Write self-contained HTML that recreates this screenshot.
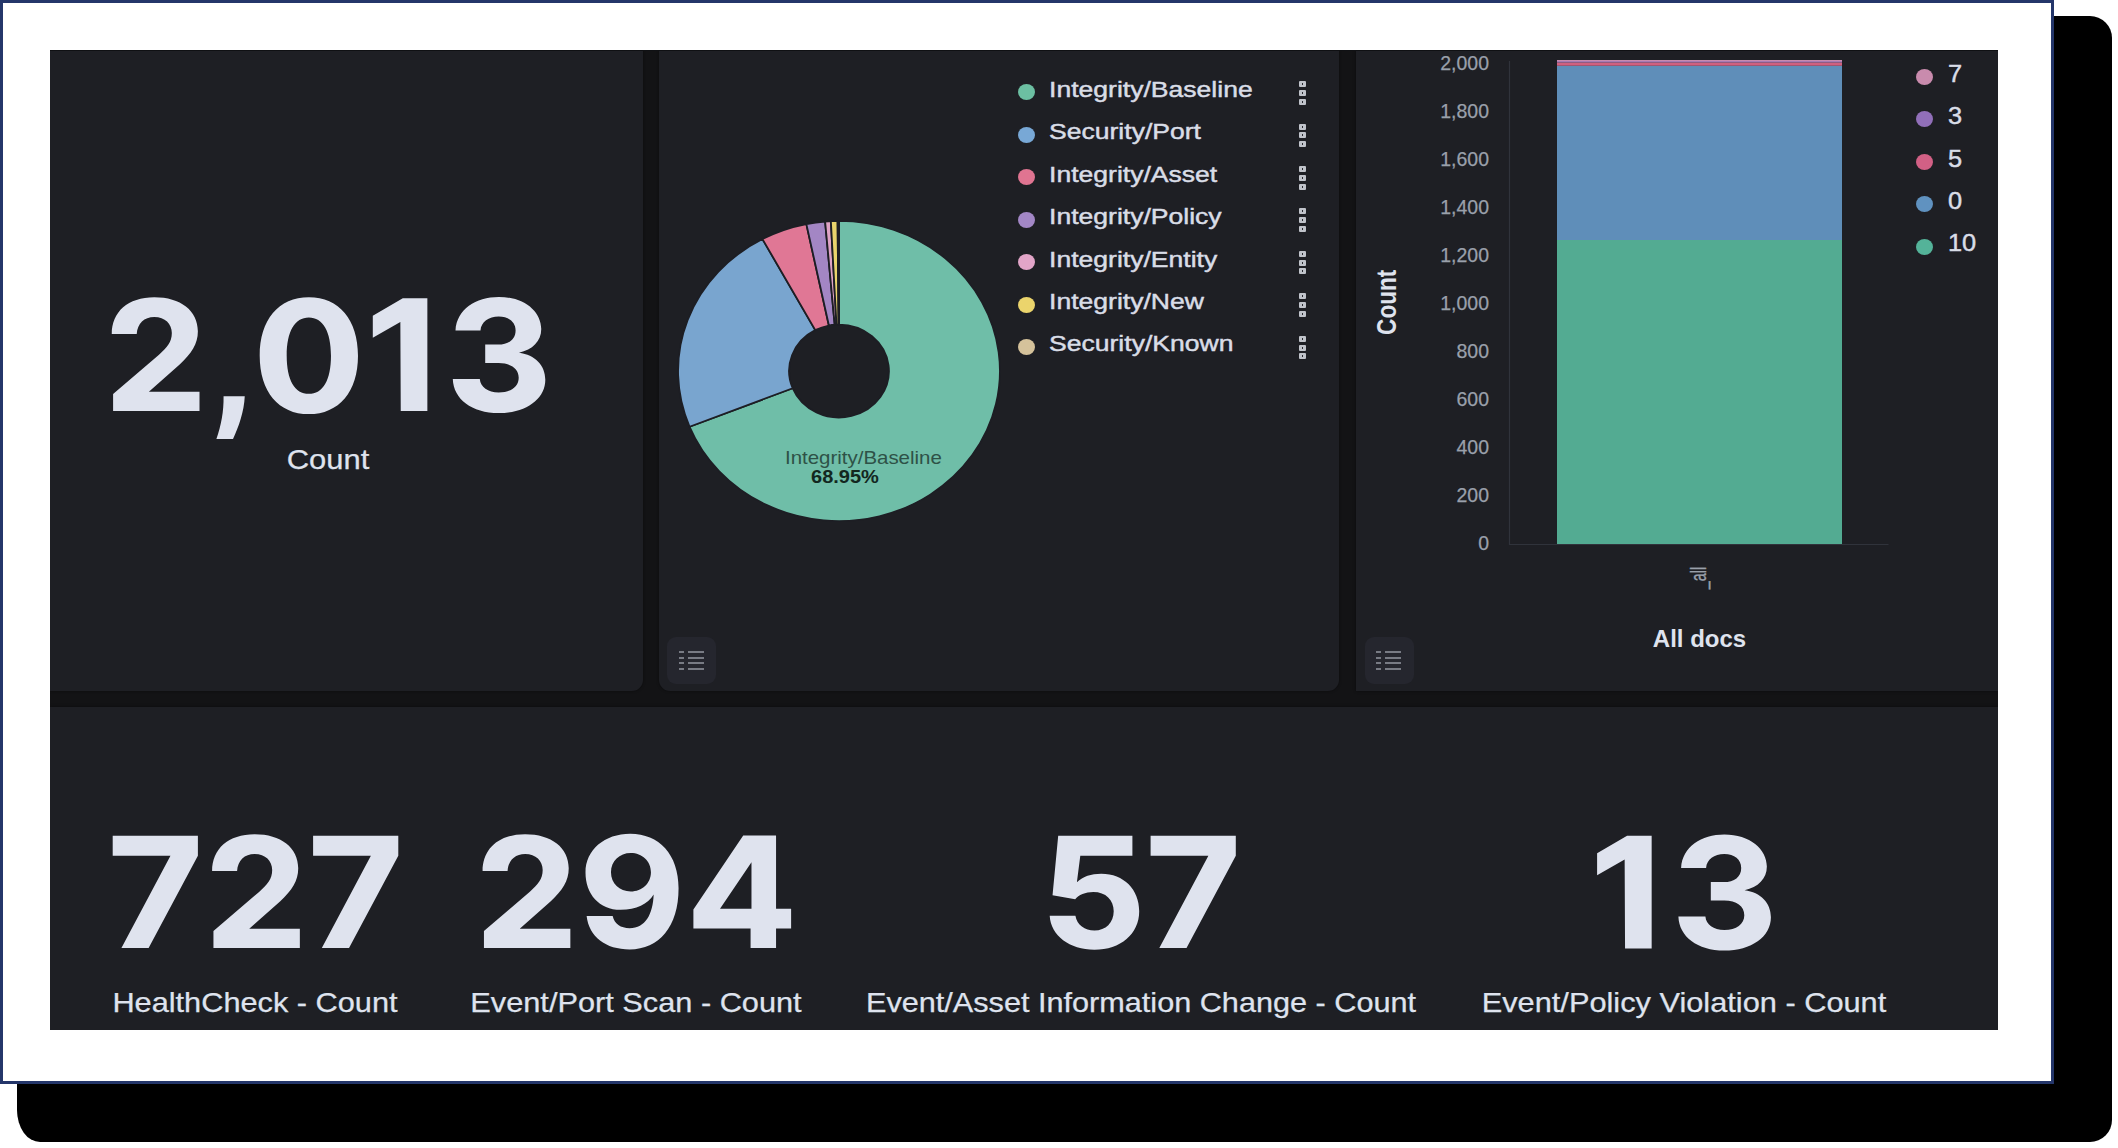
<!DOCTYPE html>
<html><head><meta charset="utf-8">
<style>
*{margin:0;padding:0;box-sizing:border-box}
html,body{width:2118px;height:1148px;overflow:hidden;background:#fff}
body{position:relative;font-family:"Liberation Sans",sans-serif}
.abs{position:absolute}
#shadow{left:17px;top:16px;width:2095px;height:1126px;background:#000;border-radius:36px 22px 22px 23px / 23px 22px 22px 32px}
#frame{left:0;top:0;width:2054px;height:1084px;border:3px solid #24366a;background:#fff}
#dash{left:50px;top:50px;width:1948px;height:980px;background:#131315;overflow:hidden}
.panel{position:absolute;background:#1e1f24;box-shadow:0 0 3px rgba(0,0,0,.45)}
.t{position:absolute;white-space:nowrap;text-align:center;color:#dfe3ee;line-height:1}
.big{font-weight:bold;font-size:165px}
.lbl{font-size:28.5px;-webkit-text-stroke:0.25px #dfe3ee}
.btn{position:absolute;width:49px;height:47px;border-radius:9px;background:#25262e}
.btn i{position:absolute;height:2px;background:#787b84}
.leg{position:absolute;left:0;white-space:nowrap;color:#dfe3ee;font-size:22.5px;line-height:1;transform-origin:0 0;transform:scaleX(1.18);-webkit-text-stroke:0.45px #d9dde7;color:#d9dde7}
.dot{position:absolute;width:17px;height:16px;border-radius:50%}
.more{position:absolute;width:7px;height:6px;background:#c0c3ca;border-radius:1px}
.more:after{content:"";position:absolute;left:3px;top:2px;width:1px;height:2px;background:#2a2b31}
.yl{position:absolute;right:0;width:80px;text-align:right;color:#9aa0ab;font-size:20.5px;line-height:1;transform-origin:100% 0;transform:scaleX(0.95);-webkit-text-stroke:0.25px #9aa0ab}
</style></head><body>
<div id="shadow" class="abs"></div>
<div id="frame" class="abs"></div>
<div id="dash" class="abs">
  <!-- panels (coords relative to dash: subtract 50) -->
  <div class="panel" style="left:0;top:0;width:593px;height:641px;border-radius:0 0 11px 0"></div>
  <div class="panel" style="left:609px;top:0;width:680px;height:641px;border-radius:0 0 11px 11px"></div>
  <div class="panel" style="left:1306px;top:0;width:642px;height:641px"></div>
  <div class="panel" style="left:0;top:657px;width:1948px;height:323px"></div>
  <div style="position:absolute;left:0;top:0;width:1948px;height:1px;background:#0f1013"></div>
</div>

<!-- big digits -->
<svg class="abs" style="left:0;top:0" width="2118" height="1148" viewBox="0 0 2118 1148"><g fill="#dfe3ee" fill-rule="evenodd">
<path d="M 113.10 411.00 L 199.50 411.00 L 199.50 391.69 L 148.88 391.69 L 179.93 364.15 C 191.40 353.62 197.88 344.17 197.88 331.35 C 197.88 310.42 180.60 297.19 154.28 297.19 C 127.95 297.19 111.75 311.77 111.75 334.05 L 136.73 334.05 C 137.40 323.25 144.15 316.90 154.28 316.90 C 165.08 316.90 171.83 323.65 171.83 333.10 C 171.83 342.15 167.10 347.55 159.00 354.70 L 113.10 394.12 Z"/>
<path d="M 223.56 396.15 L 244.75 396.15 C 244.08 411.68 238.68 426.53 233.01 438.95 L 216.40 438.95 C 221.13 425.18 223.83 411.68 223.56 396.15 Z"/>
<path d="M 308.84 297.19 C 339.08 297.19 357.99 319.87 357.99 355.65 C 357.99 391.42 339.08 414.11 308.84 414.11 C 278.60 414.11 259.70 391.42 259.70 355.65 C 259.70 319.87 278.60 297.19 308.84 297.19 Z M 308.84 317.44 C 294.80 317.44 286.70 331.35 286.70 355.65 C 286.70 379.95 294.80 393.85 308.84 393.85 C 322.88 393.85 330.98 379.95 330.98 355.65 C 330.98 331.35 322.88 317.44 308.84 317.44 Z"/>
<path d="M 400.75 411.00 L 427.36 411.00 L 427.36 298.24 L 402.78 298.24 L 372.80 315.79 L 372.80 337.81 L 400.35 322.01 Z"/>
<path d="M 455.50 330.38 C 456.85 308.77 475.76 296.89 498.71 296.89 C 524.37 296.89 541.25 311.47 541.25 329.03 C 541.25 341.18 532.48 349.96 518.97 352.66 C 535.18 354.69 545.31 365.49 545.31 379.67 C 545.31 399.25 525.72 413.03 498.71 413.03 C 471.71 413.03 453.48 399.25 452.80 378.99 L 479.81 378.99 C 480.48 387.10 487.91 392.50 498.71 392.50 C 510.87 392.50 518.70 386.42 518.70 377.64 C 518.70 368.87 510.87 363.06 498.71 363.06 L 485.21 363.06 L 485.21 344.56 L 498.04 344.56 C 508.84 344.56 515.60 339.16 515.60 330.38 C 515.60 322.28 508.84 316.60 498.71 316.60 C 488.59 316.60 481.16 322.28 480.48 330.38 Z"/>
<path d="M 112.70 835.84 L 197.89 835.84 L 197.89 855.67 L 148.61 948.00 L 121.42 948.00 L 170.48 855.67 L 112.70 855.67 Z"/>
<path d="M 213.45 948.00 L 299.85 948.00 L 299.85 928.69 L 249.23 928.69 L 280.28 901.15 C 291.75 890.62 298.23 881.17 298.23 868.35 C 298.23 847.42 280.95 834.19 254.63 834.19 C 228.30 834.19 212.10 848.77 212.10 871.05 L 237.08 871.05 C 237.75 860.25 244.50 853.90 254.63 853.90 C 265.43 853.90 272.18 860.65 272.18 870.10 C 272.18 879.15 267.45 884.55 259.35 891.70 L 213.45 931.12 Z"/>
<path d="M 313.10 835.84 L 398.29 835.84 L 398.29 855.67 L 349.01 948.00 L 321.82 948.00 L 370.88 855.67 L 313.10 855.67 Z"/>
<path d="M 483.95 948.00 L 570.35 948.00 L 570.35 928.69 L 519.73 928.69 L 550.78 901.15 C 562.25 890.62 568.73 881.17 568.73 868.35 C 568.73 847.42 551.45 834.19 525.13 834.19 C 498.80 834.19 482.60 848.77 482.60 871.05 L 507.58 871.05 C 508.25 860.25 515.00 853.90 525.13 853.90 C 535.93 853.90 542.68 860.65 542.68 870.10 C 542.68 879.15 537.95 884.55 529.85 891.70 L 483.95 931.12 Z"/>
<path d="M 630.22 833.76 C 659.10 833.76 678.57 854.36 678.57 888.33 C 678.57 926.83 659.10 949.47 629.66 949.47 C 605.88 949.47 588.90 937.02 586.63 916.07 L 612.67 916.07 C 614.37 924.00 620.60 928.19 629.66 928.19 C 645.51 928.19 652.87 914.37 653.66 894.56 C 647.77 904.18 636.45 909.84 620.60 909.84 C 599.09 909.84 585.50 893.99 585.50 872.48 C 585.50 849.83 604.75 833.76 630.22 833.76 Z M 630.79 853.00 C 619.47 853.00 610.98 861.16 610.98 872.25 C 610.98 883.24 619.47 891.50 630.79 891.50 C 642.11 891.50 650.94 883.24 650.94 872.25 C 650.94 861.16 642.11 853.00 630.79 853.00 Z"/>
<path d="M 743.22 835.57 L 776.05 835.57 L 776.05 908.82 L 791.11 908.82 L 791.11 928.41 L 776.05 928.41 L 776.05 948.00 L 750.58 948.00 L 750.58 928.41 L 693.40 928.41 L 693.40 909.50 Z M 751.48 862.18 L 720.01 908.82 L 751.48 908.82 Z"/>
<path d="M 1058.20 835.84 L 1132.40 835.84 L 1132.40 855.67 L 1080.29 855.67 L 1076.89 882.29 C 1083.12 876.63 1091.05 873.80 1101.25 873.80 C 1123.90 873.80 1139.20 889.66 1139.20 911.18 C 1139.20 933.84 1120.51 949.70 1094.45 949.70 C 1069.53 949.70 1050.83 935.54 1049.70 915.71 L 1075.42 915.71 C 1076.89 924.78 1084.82 930.44 1094.45 930.44 C 1105.78 930.44 1113.71 922.51 1113.71 911.18 C 1113.71 899.85 1105.78 891.92 1093.32 891.92 C 1085.39 891.92 1078.59 894.75 1075.19 899.29 L 1052.53 895.32 Z"/>
<path d="M 1150.60 835.84 L 1235.79 835.84 L 1235.79 855.67 L 1186.51 948.00 L 1159.32 948.00 L 1208.38 855.67 L 1150.60 855.67 Z"/>
<path d="M 1625.05 948.50 L 1651.66 948.50 L 1651.66 835.74 L 1627.08 835.74 L 1597.10 853.29 L 1597.10 875.31 L 1624.65 859.51 Z"/>
<path d="M 1681.10 867.88 C 1682.45 846.27 1701.36 834.39 1724.31 834.39 C 1749.97 834.39 1766.85 848.97 1766.85 866.53 C 1766.85 878.68 1758.08 887.46 1744.57 890.16 C 1760.78 892.19 1770.91 902.99 1770.91 917.17 C 1770.91 936.75 1751.32 950.53 1724.31 950.53 C 1697.31 950.53 1679.08 936.75 1678.40 916.49 L 1705.41 916.49 C 1706.08 924.60 1713.51 930.00 1724.31 930.00 C 1736.47 930.00 1744.30 923.92 1744.30 915.14 C 1744.30 906.37 1736.47 900.56 1724.31 900.56 L 1710.81 900.56 L 1710.81 882.06 L 1723.64 882.06 C 1734.44 882.06 1741.20 876.66 1741.20 867.88 C 1741.20 859.78 1734.44 854.10 1724.31 854.10 C 1714.19 854.10 1706.76 859.78 1706.08 867.88 Z"/>
</g></svg>
<!-- left metric -->
<div class="t lbl" style="left:-171.9px;top:444.5px;width:1000px;transform:scaleX(1.085)">Count</div>

<!-- bottom metrics -->
<div class="t lbl" style="left:-244.7px;top:987.5px;width:1000px;transform:scaleX(1.078)">HealthCheck - Count</div>
<div class="t lbl" style="left:135.5px;top:987.5px;width:1000px;transform:scaleX(1.078)">Event/Port Scan - Count</div>
<div class="t lbl" style="left:640.7px;top:987.5px;width:1000px;transform:scaleX(1.075)">Event/Asset Information Change - Count</div>
<div class="t lbl" style="left:1184.1px;top:987.5px;width:1000px;transform:scaleX(1.079)">Event/Policy Violation - Count</div>



<svg class="abs" style="left:0;top:0" width="2118" height="1148" viewBox="0 0 2118 1148">
 <g transform="translate(839 371) scale(1.073 1)" stroke="#1d1e24" stroke-width="1.7" stroke-linejoin="round" vector-effect="non-scaling-stroke">
<path d="M0.00 -150.00A150 150 0 1 1 -139.27 55.71L-43.17 17.27A46.5 46.5 0 1 0 0.00 -46.50Z" fill="#6fbea8"/>
<path d="M-139.27 55.71A150 150 0 0 1 -71.34 -131.95L-22.12 -40.90A46.5 46.5 0 0 0 -43.17 17.27Z" fill="#79a5cf"/>
<path d="M-71.34 -131.95A150 150 0 0 1 -30.42 -146.88L-9.43 -45.53A46.5 46.5 0 0 0 -22.12 -40.90Z" fill="#e07795"/>
<path d="M-30.42 -146.88A150 150 0 0 1 -12.94 -149.44L-4.01 -46.33A46.5 46.5 0 0 0 -9.43 -45.53Z" fill="#a386c4"/>
<path d="M-12.94 -149.44A150 150 0 0 1 -7.59 -149.81L-2.35 -46.44A46.5 46.5 0 0 0 -4.01 -46.33Z" fill="#dfa3c6"/>
<path d="M-7.59 -149.81A150 150 0 0 1 -1.31 -149.99L-0.41 -46.50A46.5 46.5 0 0 0 -2.35 -46.44Z" fill="#ead46c"/>
<path d="M-1.31 -149.99A150 150 0 0 1 -0.00 -150.00L-0.00 -46.50A46.5 46.5 0 0 0 -0.41 -46.50Z" fill="#d2bf98"/>
 </g>
 <!-- bar chart -->
 <line x1="1509.5" y1="61" x2="1509.5" y2="545" stroke="#30333b" stroke-width="1.2"/>
 <line x1="1509" y1="544.5" x2="1888.5" y2="544.5" stroke="#30333b" stroke-width="1.2"/>
 <rect x="1557" y="240" width="285" height="304" fill="#53ab92"/>
 <rect x="1557" y="65.7" width="285" height="174.3" fill="#5f8eb9"/>
 <rect x="1557" y="62.5" width="285" height="3.2" fill="#d0607f"/>
 <rect x="1557" y="61" width="285" height="1.5" fill="#a77bb4"/>
 <rect x="1557" y="60" width="285" height="1" fill="#c98bad"/>
</svg>

<!-- pie label -->
<div class="abs" style="left:784.6px;top:448.9px;white-space:nowrap;line-height:1;font-size:18.5px;color:#2e5247;transform-origin:0 0;transform:scaleX(1.105)">Integrity/Baseline</div>
<div class="abs" style="left:811.1px;top:468.1px;white-space:nowrap;line-height:1;font-size:18.5px;font-weight:bold;color:#13271f;transform-origin:0 0;transform:scaleX(1.082)">68.95%</div>
<!-- middle legend -->
<div class="dot" style="left:1017.9px;top:84.4px;background:#6cbfa2"></div>
<div class="leg" style="left:1048.9px;top:78.75px">Integrity/Baseline</div>
<div class="more" style="left:1299px;top:81.0px"></div><div class="more" style="left:1299px;top:89.8px"></div><div class="more" style="left:1299px;top:98.6px"></div>
<div class="dot" style="left:1017.9px;top:126.9px;background:#78a8d6"></div>
<div class="leg" style="left:1048.9px;top:121.20px">Security/Port</div>
<div class="more" style="left:1299px;top:123.5px"></div><div class="more" style="left:1299px;top:132.2px"></div><div class="more" style="left:1299px;top:141.1px"></div>
<div class="dot" style="left:1017.9px;top:169.3px;background:#e07491"></div>
<div class="leg" style="left:1048.9px;top:163.65px">Integrity/Asset</div>
<div class="more" style="left:1299px;top:165.9px"></div><div class="more" style="left:1299px;top:174.7px"></div><div class="more" style="left:1299px;top:183.5px"></div>
<div class="dot" style="left:1017.9px;top:211.8px;background:#a387c6"></div>
<div class="leg" style="left:1048.9px;top:206.10px">Integrity/Policy</div>
<div class="more" style="left:1299px;top:208.4px"></div><div class="more" style="left:1299px;top:217.2px"></div><div class="more" style="left:1299px;top:226.0px"></div>
<div class="dot" style="left:1017.9px;top:254.2px;background:#e2a5c8"></div>
<div class="leg" style="left:1048.9px;top:248.55px">Integrity/Entity</div>
<div class="more" style="left:1299px;top:250.8px"></div><div class="more" style="left:1299px;top:259.6px"></div><div class="more" style="left:1299px;top:268.4px"></div>
<div class="dot" style="left:1017.9px;top:296.6px;background:#ebd46c"></div>
<div class="leg" style="left:1048.9px;top:291.00px">Integrity/New</div>
<div class="more" style="left:1299px;top:293.2px"></div><div class="more" style="left:1299px;top:302.1px"></div><div class="more" style="left:1299px;top:310.9px"></div>
<div class="dot" style="left:1017.9px;top:339.1px;background:#d5c29b"></div>
<div class="leg" style="left:1048.9px;top:333.45px">Security/Known</div>
<div class="more" style="left:1299px;top:335.7px"></div><div class="more" style="left:1299px;top:344.5px"></div><div class="more" style="left:1299px;top:353.3px"></div>

<!-- right legend -->
<div class="dot" style="left:1915.8px;top:69.3px;background:#c98bad"></div>
<div class="leg" style="left:1948px;top:62.9px;font-size:23.5px;transform:scaleX(1.08)">7</div>
<div class="dot" style="left:1915.8px;top:111.4px;background:#916fb9"></div>
<div class="leg" style="left:1948px;top:105.0px;font-size:23.5px;transform:scaleX(1.08)">3</div>
<div class="dot" style="left:1915.8px;top:154.1px;background:#d26085"></div>
<div class="leg" style="left:1948px;top:147.7px;font-size:23.5px;transform:scaleX(1.08)">5</div>
<div class="dot" style="left:1915.8px;top:196.2px;background:#6092c0"></div>
<div class="leg" style="left:1948px;top:189.8px;font-size:23.5px;transform:scaleX(1.08)">0</div>
<div class="dot" style="left:1915.8px;top:238.8px;background:#54b399"></div>
<div class="leg" style="left:1948px;top:232.4px;font-size:23.5px;transform:scaleX(1.08)">10</div>

<!-- y labels -->
<div class="yl" style="left:1409px;top:52.6px">2,000</div>
<div class="yl" style="left:1409px;top:100.6px">1,800</div>
<div class="yl" style="left:1409px;top:148.6px">1,600</div>
<div class="yl" style="left:1409px;top:196.6px">1,400</div>
<div class="yl" style="left:1409px;top:244.6px">1,200</div>
<div class="yl" style="left:1409px;top:292.6px">1,000</div>
<div class="yl" style="left:1409px;top:340.6px">800</div>
<div class="yl" style="left:1409px;top:388.6px">600</div>
<div class="yl" style="left:1409px;top:436.6px">400</div>
<div class="yl" style="left:1409px;top:484.6px">200</div>
<div class="yl" style="left:1409px;top:532.6px">0</div>

<div class="t" style="left:1388px;top:302.4px;width:0;height:0;overflow:visible"><div style="position:absolute;left:-100px;top:-11px;width:200px;text-align:center;font-weight:bold;font-size:22.6px;color:#dfe3ee;transform:rotate(-90deg) scaleY(1.25)">Count</div></div>
<div class="t" style="left:1199.5px;top:627.2px;width:1000px;font-weight:bold;font-size:24px">All docs</div>
<div class="t" style="left:1699px;top:578px;width:0;height:0;overflow:visible"><div style="position:absolute;left:-50px;top:-11px;width:100px;height:22px;text-align:center;font-size:22px;line-height:22px;color:#9aa0ab;-webkit-text-stroke:0.4px #9aa0ab;transform:rotate(-90deg) scaleX(0.65)">_all</div></div>

<!-- list buttons -->
<div class="btn" style="left:667px;top:637px"><i style="left:12px;top:14px;width:5px"></i><i style="left:21px;top:14px;width:16px"></i><i style="left:12px;top:20px;width:5px"></i><i style="left:21px;top:20px;width:16px"></i><i style="left:12px;top:25px;width:5px"></i><i style="left:21px;top:25px;width:16px"></i><i style="left:12px;top:31px;width:5px"></i><i style="left:21px;top:31px;width:16px"></i></div>
<div class="btn" style="left:1365px;top:637px"><i style="left:11px;top:14px;width:5px"></i><i style="left:20px;top:14px;width:16px"></i><i style="left:11px;top:20px;width:5px"></i><i style="left:20px;top:20px;width:16px"></i><i style="left:11px;top:25px;width:5px"></i><i style="left:20px;top:25px;width:16px"></i><i style="left:11px;top:31px;width:5px"></i><i style="left:20px;top:31px;width:16px"></i></div>

</body></html>
